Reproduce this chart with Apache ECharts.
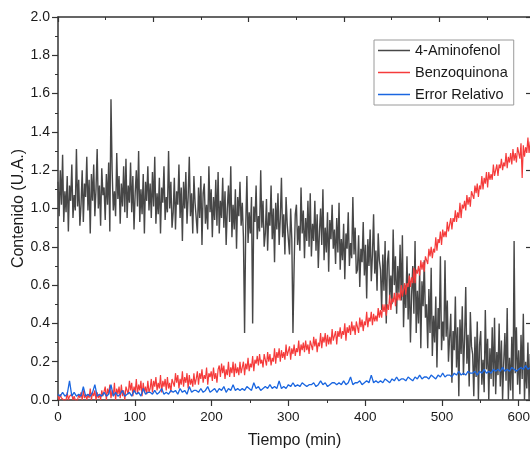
<!DOCTYPE html>
<html>
<head>
<meta charset="utf-8">
<script src="https://cdn.jsdelivr.net/npm/echarts@6/dist/echarts.min.js"></script>
<style>html,body{margin:0;padding:0;background:#fff}#c{width:530px;height:449px}</style>
</head>
<body>
<div id="c"></div>
<script>
const denseStep = 1.5; // minutes between samples (4-Aminofenol, Benzoquinona)
const blueStep = 3;    // minutes between samples (Error Relativo)
const seriesNames = ['4-Aminofenol', 'Benzoquinona', 'Error Relativo'];
const aminofenol = [
1.14,0.96,1.20,1.02,1.28,0.93,1.09,0.98,1.17,0.88,1.12,1.04,1.23,0.95,1.07,0.99,1.31,1.01,1.15,0.91,
1.02,1.20,0.93,1.13,1.06,1.27,0.99,1.15,0.87,1.18,1.04,1.23,0.96,1.10,1.31,1.00,1.12,0.91,1.21,1.07,
1.11,0.94,1.18,1.02,1.24,0.88,1.57,1.20,0.99,1.09,0.96,1.29,1.05,1.17,0.92,1.13,1.01,1.22,0.98,1.26,
0.95,1.12,1.03,1.24,0.98,1.17,0.89,1.08,1.20,1.01,1.30,0.93,1.10,0.97,1.18,0.87,1.14,1.04,1.22,0.99,
1.13,0.95,1.19,1.01,1.27,0.92,1.08,0.97,1.16,0.87,1.11,1.03,1.22,0.94,1.06,0.98,1.30,1.00,1.14,0.90,
0.98,1.16,0.89,1.09,1.02,1.23,0.95,1.11,0.83,1.14,1.00,1.19,0.92,1.06,1.27,0.96,1.08,0.87,1.17,1.03,
1.04,0.87,1.11,0.95,1.17,0.81,1.08,1.13,0.92,1.02,0.89,1.22,0.98,1.10,0.85,1.06,0.94,1.15,0.91,1.19,
0.87,1.04,0.95,1.16,0.90,1.09,0.81,1.00,1.12,0.93,1.22,0.85,1.02,0.89,1.10,0.79,1.06,0.96,1.14,0.91,
1.03,0.85,0.35,0.91,1.17,0.82,0.98,0.87,1.06,0.40,1.01,0.93,1.12,0.84,0.96,0.88,1.20,0.90,1.04,0.80,
0.87,1.05,0.78,0.98,0.91,1.12,0.84,1.00,0.72,1.03,0.89,1.08,0.81,0.95,1.16,0.85,0.97,0.76,1.06,0.92,
0.93,0.76,1.00,0.84,0.35,0.70,0.97,1.02,0.81,0.91,0.78,1.11,0.87,0.99,0.74,0.95,0.83,1.04,0.80,1.08,
0.75,0.92,0.83,1.04,0.78,0.97,0.69,0.88,1.00,0.81,1.10,0.73,0.90,0.77,0.98,0.67,0.94,0.84,1.02,0.79,
0.89,0.71,0.95,0.77,1.03,0.68,0.84,0.73,0.92,0.63,0.87,0.79,0.98,0.70,0.82,0.74,1.06,0.76,0.90,0.66,
0.68,0.86,0.59,0.79,0.72,0.93,0.65,0.81,0.53,0.84,0.70,0.89,0.62,0.76,0.97,0.66,0.78,0.57,0.87,0.73,
0.68,0.47,0.76,0.57,0.83,0.40,0.72,0.78,0.53,0.65,0.50,0.89,0.60,0.75,0.45,0.70,0.56,0.81,0.52,0.86,
0.38,0.60,0.48,0.75,0.42,0.66,0.30,0.55,0.70,0.45,0.83,0.35,0.57,0.40,0.68,0.27,0.62,0.49,0.73,0.43,
0.50,0.27,0.58,0.35,0.69,0.23,0.44,0.30,0.54,0.17,0.48,0.37,0.75,0.26,0.41,0.31,0.73,0.33,0.52,0.20,
0.21,0.45,0.09,0.36,0.26,0.54,0.17,0.38,0.02,0.42,0.24,0.49,0.13,0.32,0.59,0.19,0.34,0.07,0.46,0.28,
0.24,0.02,0.33,0.12,0.41,0.00,0.29,0.36,0.08,0.21,0.04,0.47,0.16,0.32,0.00,0.27,0.11,0.38,0.07,0.43,
0.03,0.25,0.13,0.40,0.07,0.31,0.00,0.20,0.35,0.10,0.48,0.00,0.22,0.05,0.33,0.00,0.83,0.14,0.38,0.08,
0.26,0.03,0.34,0.11,0.45,0.00,0.20,0.06,0.30,0.00,0.24
];
const benzoquinona = [
0.02,0.00,0.03,0.01,0.02,0.00,0.01,0.00,0.04,0.00,0.02,0.01,0.03,0.00,0.02,0.00,0.01,0.00,0.03,0.01,
0.04,0.00,0.05,0.01,0.03,0.00,0.03,0.01,0.06,0.00,0.04,0.02,0.05,0.00,0.04,0.01,0.03,0.00,0.05,0.02,
0.02,0.07,0.00,0.06,0.03,0.08,0.01,0.05,0.02,0.09,0.00,0.06,0.03,0.07,0.01,0.08,0.02,0.05,0.00,0.07,
0.08,0.03,0.10,0.05,0.09,0.02,0.07,0.04,0.11,0.03,0.08,0.05,0.10,0.02,0.09,0.04,0.07,0.03,0.10,0.04,
0.06,0.11,0.04,0.10,0.07,0.12,0.05,0.09,0.06,0.13,0.04,0.10,0.07,0.11,0.05,0.12,0.06,0.09,0.04,0.11,
0.12,0.07,0.14,0.09,0.13,0.06,0.11,0.08,0.15,0.07,0.12,0.09,0.14,0.06,0.13,0.08,0.11,0.07,0.14,0.08,
0.11,0.15,0.08,0.14,0.11,0.16,0.09,0.13,0.11,0.17,0.08,0.14,0.12,0.15,0.10,0.17,0.11,0.14,0.09,0.16,
0.18,0.12,0.19,0.14,0.18,0.11,0.16,0.13,0.20,0.12,0.17,0.14,0.20,0.12,0.19,0.14,0.17,0.13,0.20,0.14,
0.15,0.20,0.13,0.19,0.16,0.22,0.15,0.19,0.17,0.23,0.15,0.21,0.19,0.23,0.18,0.24,0.19,0.21,0.17,0.24,
0.23,0.18,0.25,0.20,0.24,0.18,0.22,0.20,0.27,0.19,0.25,0.22,0.27,0.20,0.26,0.22,0.25,0.21,0.29,0.23,
0.23,0.28,0.21,0.27,0.24,0.29,0.23,0.27,0.25,0.31,0.23,0.29,0.26,0.30,0.25,0.31,0.26,0.29,0.24,0.31,
0.31,0.26,0.33,0.28,0.32,0.25,0.30,0.28,0.35,0.27,0.33,0.30,0.35,0.28,0.34,0.29,0.33,0.29,0.37,0.31,
0.31,0.36,0.29,0.36,0.33,0.38,0.32,0.36,0.34,0.40,0.31,0.38,0.35,0.39,0.34,0.41,0.36,0.39,0.34,0.41,
0.40,0.35,0.43,0.38,0.42,0.36,0.41,0.39,0.46,0.38,0.43,0.41,0.46,0.39,0.45,0.41,0.44,0.41,0.48,0.43,
0.47,0.43,0.50,0.46,0.50,0.44,0.50,0.47,0.55,0.47,0.53,0.51,0.56,0.49,0.56,0.52,0.56,0.52,0.60,0.54,
0.55,0.61,0.55,0.61,0.59,0.65,0.59,0.64,0.61,0.69,0.61,0.68,0.66,0.70,0.65,0.73,0.68,0.72,0.67,0.75,
0.75,0.71,0.79,0.75,0.80,0.74,0.79,0.77,0.85,0.78,0.84,0.82,0.88,0.81,0.89,0.85,0.88,0.85,0.93,0.88,
0.89,0.95,0.89,0.95,0.93,0.99,0.93,0.98,0.95,1.03,0.95,1.02,1.00,1.04,0.99,1.07,1.02,1.06,1.01,1.09,
1.09,1.05,1.12,1.08,1.13,1.06,1.12,1.10,1.17,1.10,1.16,1.13,1.19,1.11,1.19,1.15,1.18,1.15,1.23,1.17,
1.18,1.23,1.17,1.23,1.21,1.26,1.20,1.24,1.22,1.29,1.21,1.27,1.24,1.29,1.23,1.31,1.25,1.29,1.24,1.32,
1.31,1.26,1.34,1.16,1.33,1.27,1.32,1.29,1.37,1.29,1.35
];
const errorRelativo = [
0.03,0.02,0.04,0.02,0.03,0.10,0.02,0.04,0.02,0.03,
0.02,0.07,0.02,0.03,0.02,0.04,0.08,0.02,0.03,0.02,
0.04,0.02,0.03,0.08,0.02,0.04,0.02,0.03,0.05,0.02,
0.03,0.04,0.02,0.05,0.03,0.04,0.02,0.06,0.03,0.04,
0.04,0.03,0.05,0.03,0.04,0.06,0.03,0.04,0.03,0.05,
0.04,0.05,0.03,0.06,0.04,0.05,0.03,0.07,0.04,0.05,
0.05,0.04,0.06,0.04,0.05,0.07,0.04,0.05,0.06,0.04,
0.06,0.05,0.07,0.04,0.06,0.05,0.08,0.05,0.06,0.05,
0.06,0.05,0.07,0.06,0.05,0.09,0.06,0.07,0.05,0.06,
0.07,0.06,0.08,0.06,0.07,0.06,0.10,0.06,0.07,0.06,
0.08,0.07,0.09,0.07,0.08,0.07,0.09,0.08,0.07,0.08,
0.08,0.09,0.07,0.08,0.10,0.08,0.09,0.07,0.08,0.09,
0.09,0.08,0.09,0.08,0.10,0.08,0.09,0.12,0.08,0.09,
0.09,0.10,0.08,0.09,0.10,0.09,0.13,0.09,0.10,0.09,
0.10,0.09,0.11,0.10,0.09,0.11,0.10,0.12,0.10,0.11,
0.11,0.10,0.12,0.11,0.10,0.12,0.11,0.13,0.11,0.12,
0.12,0.11,0.13,0.12,0.11,0.13,0.12,0.14,0.12,0.13,
0.13,0.12,0.14,0.13,0.15,0.13,0.14,0.13,0.15,0.14,
0.14,0.15,0.13,0.15,0.14,0.16,0.14,0.15,0.14,0.16,
0.15,0.16,0.15,0.17,0.15,0.16,0.15,0.17,0.16,0.15,
0.16,0.17,0.16,0.18,0.16,0.17
];
const colors = ['#474747', '#f53b3b', '#1a66e0'];

const font = 'Arial, "Liberation Sans", sans-serif';
const toPairs = (arr, step) => arr.map((v, i) => [i * step, v]);
const chart = echarts.init(document.getElementById('c'), null, {renderer: 'canvas'});
const axisCol = '#333';
chart.setOption({
  animation: false,
  backgroundColor: '#fff',
  textStyle: {fontFamily: font},
  grid: {left: 58, top: 17, right: -1, bottom: 49, containLabel: false, outerBoundsMode: 'none'},
  legend: {
    orient: 'vertical', left: 374, top: 40,
    data: seriesNames,
    icon: 'rect',
    itemWidth: 32, itemHeight: 1.5, itemGap: 7, itemTextGap: 4,
    padding: [3, 6, 3, 4],
    borderColor: '#9a9a9a', borderWidth: 1, borderRadius: 0,
    textStyle: {fontFamily: font, fontSize: 14.5, lineHeight: 14, color: '#1a1a1a'}
  },
  xAxis: [{
    type: 'value', min: 0, max: 616, interval: 100,
    name: 'Tiempo (min)', nameLocation: 'middle', nameGap: 33,
    nameTextStyle: {fontFamily: font, fontSize: 16, color: '#1a1a1a'},
    axisLine: {show: true, lineStyle: {color: axisCol, width: 1.5}},
    axisTick: {show: true, inside: false, length: 6, lineStyle: {color: axisCol, width: 1.2}},
    minorTick: {show: true, splitNumber: 2, length: 3, lineStyle: {color: axisCol, width: 1}},
    axisLabel: {fontFamily: font, fontSize: 13.5, color: '#1a1a1a', margin: 10},
    splitLine: {show: false}
  }, {
    type: 'value', position: 'top', min: 0, max: 4.963, interval: 1,
    axisLine: {show: true, onZero: false, lineStyle: {color: axisCol, width: 1.5}},
    axisTick: {show: true, inside: true, length: 5, lineStyle: {color: axisCol, width: 1.2}},
    minorTick: {show: true, splitNumber: 2, length: 3, lineStyle: {color: axisCol, width: 1}},
    axisLabel: {show: false}, splitLine: {show: false}
  }],
  yAxis: [{
    type: 'value', min: 0, max: 2, interval: 0.2,
    name: 'Contenido (U.A.)', nameLocation: 'middle', nameGap: 31, nameMoveOverlap: false,
    nameTextStyle: {fontFamily: font, fontSize: 16, color: '#1a1a1a'},
    axisLine: {show: true, lineStyle: {color: axisCol, width: 1.5}},
    axisTick: {show: true, inside: false, length: 6, lineStyle: {color: axisCol, width: 1.2}},
    minorTick: {show: true, splitNumber: 2, length: 3, lineStyle: {color: axisCol, width: 1}},
    axisLabel: {fontFamily: font, fontSize: 14, color: '#1a1a1a', margin: 8, formatter: v => v.toFixed(1)},
    splitLine: {show: false}
  }, {
    type: 'value', position: 'right', min: 0, max: 5, interval: 1,
    axisLine: {show: true, onZero: false, lineStyle: {color: axisCol, width: 1.5}},
    axisTick: {show: true, inside: true, length: 5, lineStyle: {color: axisCol, width: 1.2}},
    axisLabel: {show: false}, splitLine: {show: false}
  }],
  series: [
    {name: seriesNames[0], type: 'line', data: toPairs(aminofenol, denseStep), symbol: 'none',
     lineStyle: {color: colors[0], width: 1.4}, itemStyle: {color: colors[0]}},
    {name: seriesNames[1], type: 'line', data: toPairs(benzoquinona, denseStep), symbol: 'none',
     lineStyle: {color: colors[1], width: 1.2}, itemStyle: {color: colors[1]}},
    {name: seriesNames[2], type: 'line', data: toPairs(errorRelativo, blueStep), symbol: 'none',
     lineStyle: {color: colors[2], width: 1.3}, itemStyle: {color: colors[2]}}
  ]
});
</script>
</body>
</html>
